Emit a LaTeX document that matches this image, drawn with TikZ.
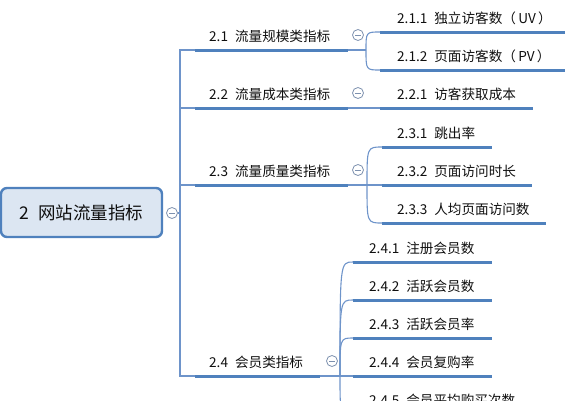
\documentclass[tikz,border=0pt]{standalone}
\usepackage{fontspec}
\setmainfont{Noto Sans CJK SC}
\definecolor{ublue}{RGB}{79,129,189}
\definecolor{cblue}{RGB}{110,148,202}
\definecolor{fcol}{RGB}{125,145,175}
\definecolor{rootfill}{RGB}{220,230,242}
\definecolor{txt}{RGB}{15,15,15}
\newcommand\tgap{\hspace{7pt}}
\begin{document}
\begin{tikzpicture}[x=1pt,y=-1pt,
 uline/.style={line width=3pt, draw=ublue},
 conn/.style={line width=1.1pt, draw=cblue},
 lab/.style={anchor=base west, inner sep=0pt, text=txt, font=\fontsize{13.6}{16}\selectfont},
 rootbox/.style={draw=ublue, fill=rootfill, line width=2.4pt, rounded corners=6pt, inner sep=0pt, text=txt, font=\fontsize{17.5}{20}\selectfont},
 fold/.style={circle, draw=fcol, fill=white, line width=0.8pt, minimum size=11pt, inner sep=0pt,
   path picture={\draw[fcol, line width=0.9pt] ([xshift=-2.6pt]path picture bounding box.center) -- ([xshift=2.6pt]path picture bounding box.center);}},
]
\useasboundingbox (0,0) rectangle (566,400);
\clip (0,0) rectangle (566,400);
% root
\node[rootbox, minimum width=161pt, minimum height=49pt] (root) at (81.5,212.5) {2\hspace{9pt}网站流量指标};
\node[fold] (f0) at (172,213) {};
\coordinate (trk) at (180,213);
\draw[conn] (f0) -- (trk);
% level 1 underline ends
\coordinate (a21) at (195,50);  \coordinate (b21) at (348,50);
\coordinate (a22) at (195,108); \coordinate (b22) at (348,108);
\coordinate (a23) at (195,185); \coordinate (b23) at (348,185);
\coordinate (a24) at (195,376); \coordinate (b24) at (320,376);
\coordinate (tt) at (180,50); \coordinate (tb) at (180,376);
\coordinate (t22) at (180,108); \coordinate (t23) at (180,185);
\draw[conn] (a21) -- (tt) -- (tb) -- (a24);
\draw[conn] (t22) -- (a22);
\draw[conn] (t23) -- (a23);
\foreach \n in {21,22,23,24} \draw[uline] (a\n) -- (b\n);
\node[lab] (n21) at (209,41) {2.1\tgap 流量规模类指标};
\node[lab] (n22) at (209,99) {2.2\tgap 流量成本类指标};
\node[lab] (n23) at (209,176) {2.3\tgap 流量质量类指标};
\node[lab] (n24) at (209,367) {2.4\tgap 会员类指标};
\node[fold] (f21) at (358,35) {};
\node[fold] (f22) at (358,93) {};
\node[fold] (f23) at (358,170) {};
\node[fold] (f24) at (332,361) {};
% level 2 underline ends
\coordinate (a211) at (380,32);  \coordinate (b211) at (565,32);
\coordinate (a212) at (380,70);  \coordinate (b212) at (565,70);
\coordinate (a221) at (380,108); \coordinate (b221) at (533,108);
\coordinate (a231) at (382,147); \coordinate (b231) at (492,147);
\coordinate (a232) at (382,185); \coordinate (b232) at (532,185);
\coordinate (a233) at (382,223); \coordinate (b233) at (546,223);
\coordinate (a241) at (353,262); \coordinate (b241) at (492,262);
\coordinate (a242) at (353,300); \coordinate (b242) at (492,300);
\coordinate (a243) at (353,338); \coordinate (b243) at (492,338);
\coordinate (a244) at (353,376); \coordinate (b244) at (492,376);
\coordinate (a245) at (353,414); \coordinate (b245) at (530,414);
\foreach \n in {211,212,221,231,232,233,241,242,243,244,245} \draw[uline] (a\n) -- (b\n);
% connectors
\coordinate (s21) at (366,50);
\draw[conn] (b21) -- (s21);
\draw[conn] (s21) .. controls (366,32) .. (a211);
\draw[conn] (s21) .. controls (366,70) .. (a212);
\draw[conn] (b22) -- (a221);
\coordinate (s23) at (367,185);
\draw[conn] (b23) -- (a232);
\draw[conn] (s23) .. controls (367,147) .. (a231);
\draw[conn] (s23) .. controls (367,223) .. (a233);
\coordinate (s24) at (340,376);
\draw[conn] (b24) -- (a244);
\draw[conn] (s24) .. controls (340,262) .. (a241);
\draw[conn] (s24) .. controls (340,300) .. (a242);
\draw[conn] (s24) .. controls (340,338) .. (a243);
\draw[conn] (s24) .. controls (340,414) .. (a245);
% labels
\node[lab] (n211) at (397,23) {2.1.1\tgap 独立访客数（\,UV\,）};
\node[lab] (n212) at (397,61) {2.1.2\tgap 页面访客数（\,PV\,）};
\node[lab] (n221) at (397,99) {2.2.1\tgap 访客获取成本};
\node[lab] (n231) at (397,138) {2.3.1\tgap 跳出率};
\node[lab] (n232) at (397,176) {2.3.2\tgap 页面访问时长};
\node[lab] (n233) at (397,214) {2.3.3\tgap 人均页面访问数};
\node[lab] (n241) at (369,253) {2.4.1\tgap 注册会员数};
\node[lab] (n242) at (369,291) {2.4.2\tgap 活跃会员数};
\node[lab] (n243) at (369,329) {2.4.3\tgap 活跃会员率};
\node[lab] (n244) at (369,367) {2.4.4\tgap 会员复购率};
\node[lab] (n245) at (369,405) {2.4.5\tgap 会员平均购买次数};
\end{tikzpicture}
\end{document}
